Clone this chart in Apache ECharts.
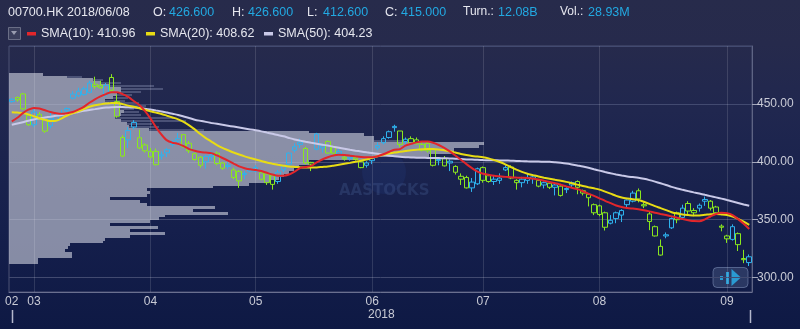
<!DOCTYPE html>
<html><head><meta charset="utf-8">
<script src="https://cdn.jsdelivr.net/npm/echarts@6/dist/echarts.min.js"></script>
<style>
html,body{margin:0;padding:0;width:800px;height:329px;overflow:hidden;
background:linear-gradient(to bottom,#272b4b 0px,#262a4c 44px,#20274f 110px,#151f4c 230px,#0e1944 329px);}
#c{width:800px;height:329px;}
</style></head><body><div id="c"></div>
<script>
const dates = ['2018/02/23','2018/02/26','2018/02/27','2018/02/28',
'2018/03/01','2018/03/02','2018/03/05','2018/03/06','2018/03/07','2018/03/08','2018/03/09','2018/03/12','2018/03/13','2018/03/14','2018/03/15','2018/03/16','2018/03/19','2018/03/20','2018/03/21','2018/03/22','2018/03/23','2018/03/26','2018/03/27','2018/03/28','2018/03/29',
'2018/04/03','2018/04/04','2018/04/06','2018/04/09','2018/04/10','2018/04/11','2018/04/12','2018/04/13','2018/04/16','2018/04/17','2018/04/18','2018/04/19','2018/04/20','2018/04/23','2018/04/24','2018/04/25','2018/04/26','2018/04/27','2018/04/30',
'2018/05/02','2018/05/03','2018/05/04','2018/05/07','2018/05/08','2018/05/09','2018/05/10','2018/05/11','2018/05/14','2018/05/15','2018/05/16','2018/05/17','2018/05/18','2018/05/21','2018/05/23','2018/05/24','2018/05/25','2018/05/28','2018/05/29','2018/05/30','2018/05/31',
'2018/06/01','2018/06/04','2018/06/05','2018/06/06','2018/06/07','2018/06/08','2018/06/11','2018/06/12','2018/06/13','2018/06/14','2018/06/15','2018/06/19','2018/06/20','2018/06/21','2018/06/22','2018/06/25','2018/06/26','2018/06/27','2018/06/28','2018/06/29',
'2018/07/03','2018/07/04','2018/07/05','2018/07/06','2018/07/09','2018/07/10','2018/07/11','2018/07/12','2018/07/13','2018/07/16','2018/07/17','2018/07/18','2018/07/19','2018/07/20','2018/07/23','2018/07/24','2018/07/25','2018/07/26','2018/07/27','2018/07/30','2018/07/31',
'2018/08/01','2018/08/02','2018/08/03','2018/08/06','2018/08/07','2018/08/08','2018/08/09','2018/08/10','2018/08/13','2018/08/14','2018/08/15','2018/08/16','2018/08/17','2018/08/20','2018/08/21','2018/08/22','2018/08/23','2018/08/24','2018/08/27','2018/08/28','2018/08/29','2018/08/30','2018/08/31',
'2018/09/03','2018/09/04','2018/09/05','2018/09/06','2018/09/07'];

const opens = [452,455.5,458.6,440,432,441,436.5,431,436,440,
444,455,457,458,460,467,466,458,472.8,452,
405,419,434,420.8,414.6,404.2,409,405,407.8,414.8,
418,423.5,416,407,404,400,404.5,407.5,399,396,
393,391.7,389,392,392,390.5,389.5,388,383,393,
398,410,415,411.5,399.5,424,412,417.6,413,407,
404,403,403.5,400,397,401,412,416.5,421,429.5,
426.6,417.5,420,419,415,416,410.5,401,403,399,
396,387.5,386.5,377.5,381,395,388,383,384,393,
395.5,384,382,384,385.5,384,380,381.5,378,379,
376,380,383,373,372,363,362,356,347,356,
354,363,366,375,363,355,344,319.5,336,343,
356,352,364,358,360,366,366,361,344.5,336,
333,338,316.5,313];
const highs = [455,456.5,459.5,441,446,443,437,443,442,445,
447,461,464,465,470,473.5,470,468,475.7,458,
423,430,436,427.8,416,412,411.5,409,412,419,
425,424,418,408,405,406,409,409,400,400,
395,393,392,395,397,391,390,389,393,397,
408,416,420,413,400,425,416,418.5,414,411,
406,406,404,401,400.5,404,417,422,427,432,
426.6,421,422,421,417,418,411,404,405,402,
397,390,388,386,395,396,389,388,390,397,
397,385,387,390,389,385,383,382,381,381,
378,383,384,376,373,364,363,357,354,357,
359,367.5,375,377,365,357,345,333,339,352,
357,363,366,360,364,370,367,362,346,337,
346,339,324,320];
const lows = [451,452,445,431,430,436,425,429,434,439,
443,454,456,457,459,463,463,456,460,438,
404,412,428,411,408,403,397,402,404,413,
416,412,407.5,401,395,394,401,397,393,394,
385,377.5,385,391,391,384,380,376,381,391,
397,408,412,398,392,410,408,407,406,406,
401,401,401,394.5,395,398,410,415,420,426,
412.6,415,415,415,409,408,396,397,396,392,
389,380,377,374,380,382,382,380,381,392,
385,376,378,381,381,378,377,376.5,371,370,
373,378,372,371,361.5,354,353,340.7,346,347,
348,360,365,365,360,341,335.5,319,334,342,
347,351,355,353,357,362,358,355,340,330,
332,323,312.5,310];
const closes = [454,453.5,445.7,432,443,437,426.5,437,439,442,
446,458.5,461,463,468,465,464,466,461.8,439.3,
421,427,430,412,409.5,409,397.5,406,410.5,417.7,
420,413,409.5,402,397,404.7,406,398.5,394.5,397,
386.5,383.5,390,393.5,395,385,382,380.5,391,396,
407.5,413,417,399,398,411,414,407.6,407.5,409,
402.5,404,402,395,399,403,414,420,426,430.6,
415,419.5,416,415.5,410,409.5,397,402,396.5,400.5,
391,385,377.5,382.5,394,384,383,385,386,395,
386,382,385,386.5,387,379,382,378,380,371,
377,382,378,375,369,356,354.5,343.5,349.5,351,
358,367,373,368,362,348.5,336,327,337,351,
350,360,357.5,356,362.5,367.5,360,356,343.5,333.5,
344,328.5,315.5,318];

const sma10 = [435,438,442,445,446.5,446,444.5,443,442,441.5,
442,443,445,447.5,451,454,456.5,458.5,460,460,
458.5,456,452.5,449,444,437.5,430,423.5,418.5,416.5,
415.5,413.5,411,409.5,408.5,408,407.5,405.5,403.3,401,
398.5,396,394.5,393.5,393,392,390.5,389,388,388,
389,391.5,394.6,395.5,396.5,399.5,402,404,405.5,406,
405.8,405.3,404.7,404.2,404,404,404.8,406.5,408.5,410.5,
411,414,415.5,416.8,417.5,417.5,416.5,414.5,412,409,
405.5,401.8,398,394.5,391.5,389.7,388.8,388,387.5,387,
386.7,386.4,386.2,386,385.4,384.7,383.6,382.6,381.5,380.2,
378.8,377.6,376.4,374.5,372.5,370.6,368.5,366.3,364.3,362.3,
361,360.2,359.6,359,358.2,357.2,356,355,354,352.9,
351.7,350.6,349.6,348.8,348.7,350.3,352.8,355,356,355.7,
354,350.5,346.5,342];
const sma20 = [442.7,442.5,442.2,441,439.3,437.6,436.2,435.2,435.5,437.5,
440,442,443.7,445.5,447.5,448.8,449.6,450.3,450.8,450.8,
449.8,448.5,447.5,446.3,445,443.7,442.5,441.3,439.8,438.3,
436.7,434.5,431.5,428,424,420.5,417.5,414.5,412,410,
408,406.3,404.7,403.3,402,400.7,399.4,398.4,397.5,396.7,
396,395.6,395.3,395.1,395,395.2,395.6,396,396.7,397.5,
398.3,399.1,400,401,402,403.5,404.8,406,407.1,408,
408.6,409.3,410,410.5,410.8,411,411,410.7,410,409.2,
408,406.8,405.8,405,404.5,404,403,401.5,399.8,397.8,
395.5,393.2,391.3,389.7,388.5,387.3,386.3,385.4,384.5,383.7,
382.7,381.5,380.3,379.2,378.1,377.1,376,374.3,372.5,370.6,
369.2,368.3,367.6,367,365.5,363.7,361.7,360,358.3,356.5,
355.3,354.5,354,353.6,353.7,354.2,354.8,355,354.6,354,
352.8,350.8,348.3,345.5];
const sma50 = [432,433,434.2,435.5,436.6,437.5,438.3,439,439.7,440.4,
441.2,442,443,444,444.8,445.5,446.2,446.8,447.2,447.4,
447.3,447.1,446.8,446.4,445.8,445.1,444.3,443.5,442.5,441.5,
440.5,439.2,437.8,436.4,435.4,434.5,433.6,432.8,432,431.2,
430.4,429.6,428.8,428,427.2,426.3,425.2,424.2,423.1,422,
420.6,419.3,418.3,417.3,416.4,415.6,414.8,414,413.1,412.2,
411.3,410.4,409.6,408.9,408.2,407.6,406.9,406.2,405.5,404.8,
404.3,404,403.8,403.6,403.5,403.4,403.3,403.2,403.1,402.9,
402.7,402.4,402.1,401.9,401.7,401.5,401.4,401.3,401.2,401.1,
401,400.8,400.6,400.4,400.3,400.2,400.1,400,399.6,399.1,
398.5,397.7,396.8,395.9,394.8,393.6,392.4,391.2,390.1,389.1,
388.2,387.4,386.8,386.2,385.3,384.2,382.9,381.5,380,378.4,
377,375.8,374.7,373.6,372.6,371.5,370.4,369.3,368.2,367,
365.8,364.5,363.2,362];

const monthTickDates = ['2018/02/23','2018/03/01','2018/04/03','2018/05/02','2018/06/01','2018/07/03','2018/08/01','2018/09/03'];
const monthTickLabels = ['02','03','04','05','06','07','08','09'];
const yearLabel = '2018';

// volume-by-price profile: bin lower price, main volume, extra (darker) volume
const profileLow = [312,314.5,317,319.5,322,324.5,327,329.5,332,334.5,
337,339.5,342,344.5,347,349.5,352,354.5,357,359.5,
362,364.5,367,369.5,372,374.5,377,379.5,382,384.5,
387,389.5,392,394.5,397,399.5,402,404.5,407,409.5,
412,414.5,417,419.5,422,424.5,427,429.5,432,434.5,
437,439.5,442,444.5,447,449.5,452,454.5,457,459.5,
462,464.5,467,469.5,472,474.5];
const profileVol = [29,29,63,63,56,59,61,94,96,121,
156,121,149,101,141,150,156,219,184,206,
138,131,101,138,141,138,204,240,260,270,
275,280,285,290,300,300,361,420,445,445,
470,475,365,365,355,300,140,120,118,112,
106,112,115,110,112,100,96,104,108,112,
112,100,92,84,58,34];
const profileExtra = [0,0,0,0,0,0,0,0,0,0,
0,0,0,0,0,0,0,0,0,0,
0,0,0,0,0,0,0,0,0,0,
0,0,0,0,0,0,0,0,0,0,
0,0,30,0,0,0,55,30,25,65,
60,20,15,15,25,30,20,15,15,20,
42,45,20,10,15,0];
const profileBin = 2.5;

const sym = '00700.HK';
const header = {date:'2018/06/08', o:'426.600', h:'426.600', l:'412.600', c:'415.000', turn:'12.08B', vol:'28.93M'};
const smaNames = ['SMA(10)','SMA(20)','SMA(50)'];
const smaLast = ['410.96','408.62','404.23'];

const BLUE = '#2fb3ee', GREEN = '#8ae81e';
const smaColors = ['#e2262b','#e8dc14','#c9c9e8'];
const GRIDC = '#424a70';
const FONT = '"Liberation Sans", Arial, sans-serif';

const candleData = dates.map((d,i)=>{
  const o=opens[i], c=closes[i];
  const ref = i>0 ? closes[i-1] : o;
  const col = c >= ref ? BLUE : GREEN;
  return {value:[o,c,lows[i],highs[i]], itemStyle:{color:'rgba(0,0,0,0)', color0:col, borderColor:col, borderColor0:col, borderWidth:1}};
});
const profMain = profileLow.map((lo,i)=>[lo, lo+profileBin, 0, profileVol[i]]);
const profExtra = profileLow.map((lo,i)=>[lo, lo+profileBin, profileVol[i], profileVol[i]+profileExtra[i]]);
const monthSet = new Set(monthTickDates);

function profRender(fill, thin){
  return function(params, api){
    const lo=api.value(0), hi=api.value(1), a=api.value(2), b=api.value(3);
    if (b<=a) return null;
    const p0 = api.coord([a, hi]), p1 = api.coord([b, lo]);
    let y0 = Math.round(p0[1]), y1 = Math.round(p1[1]);
    if (thin) { const m = Math.round((y0+y1)/2); y0 = m-1; y1 = m+1; }
    return {type:'rect', shape:{x:Math.round(p0[0]), y:y0, width:Math.round(p1[0])-Math.round(p0[0]), height:y1-y0}, style:{fill:fill}};
  };
}

const chart = echarts.init(document.getElementById('c'), null, {renderer:'canvas'});

const graphics = [];
function txt(x,y,t,fill,size,weight){ graphics.push({type:'text', left:x, top:y, silent:true, style:{text:t, fill:fill, font:(weight||'normal')+' '+(size||12.5)+'px '+FONT}}); }
const W='#e6e7ef', CY='#22a9e2';
txt(8,6,sym+' '+header.date,W);
txt(153,6,'O:',W); txt(169,6,header.o,CY);
txt(232,6,'H:',W); txt(248,6,header.h,CY);
txt(307,6,'L:',W); txt(323,6,header.l,CY);
txt(385,6,'C:',W); txt(401,6,header.c,CY);
txt(463,6,'Turn.:',W,12); txt(498,6,header.turn,CY);
txt(560,6,'Vol.:',W,12); txt(588,6,header.vol,CY);
graphics.push({type:'rect', left:8, top:27, silent:true, shape:{width:12,height:12}, style:{fill:'#3b3f5c', stroke:'#6a6e86', lineWidth:1}});
graphics.push({type:'polygon', silent:true, shape:{points:[[11,31],[17,31],[14,35]]}, style:{fill:'#9a9db0'}});
const legX=[27,146,264], legT=[41,160,278];
for(let k=0;k<3;k++){
  graphics.push({type:'rect', left:legX[k], top:32, silent:true, shape:{width:9,height:3.5}, style:{fill:smaColors[k]}});
  txt(legT[k],27,smaNames[k]+': '+smaLast[k],W);
}
txt(368,309,yearLabel,'#c9cbd6',12);
graphics.push({type:'line', silent:true, shape:{x1:12.5,y1:310,x2:12.5,y2:323}, style:{stroke:'#b4b8cc', lineWidth:1.5}});
graphics.push({type:'line', silent:true, shape:{x1:750.5,y1:310,x2:750.5,y2:323}, style:{stroke:'#b4b8cc', lineWidth:1.5}});
// watermark
graphics.push({type:'circle', silent:true, z:0, shape:{cx:384,cy:172,r:22}, style:{fill:'rgba(40,80,160,0.14)'}});
graphics.push({type:'text', silent:true, z:0, left:339, top:184, style:{text:'AASTOCKS', fill:'rgba(70,95,150,0.32)', font:'bold 15px "DejaVu Sans", sans-serif'}});
// scroll button
graphics.push({type:'rect', silent:true, left:712.5, top:267, shape:{width:35,height:20,r:4}, style:{fill:'rgba(120,140,180,0.25)', stroke:'rgba(150,170,210,0.45)', lineWidth:1}});
graphics.push({type:'rect', silent:true, left:720, top:276, shape:{width:3,height:4}, style:{fill:'#2a9ad2'}});
graphics.push({type:'rect', silent:true, left:726, top:272, shape:{width:3,height:12}, style:{fill:'#2a9ad2'}});
graphics.push({type:'polygon', silent:true, shape:{points:[[731.5,269],[741,277.5],[731.5,286]]}, style:{fill:'#2a9ad2'}});

const option = {
  animation:false,
  backgroundColor:'transparent',
  textStyle:{fontFamily:FONT},
  grid:{left:9, right:48, top:46, bottom:37, containLabel:false, show:true, borderColor:'#4c5374', borderWidth:1, backgroundColor:'transparent'},
  xAxis:[{
    type:'category', data:dates, boundaryGap:true,
    axisLine:{onZero:false, lineStyle:{color:'#6a7090'}}, axisTick:{show:false},
    axisLabel:{color:'#c9cbd6', fontSize:12, margin:4,
      interval:(idx,val)=>monthSet.has(val),
      formatter:(val)=>monthTickLabels[monthTickDates.indexOf(val)]},
    splitLine:{show:false}
  },{
    type:'value', min:0, max:743, show:false, splitLine:{show:false}
  }],
  yAxis:[{
    type:'value', position:'right', min:287.6, max:500,
    axisLine:{show:true, onZero:false, lineStyle:{color:'#5e6484'}},
    axisTick:{show:true, length:6, lineStyle:{color:'#a4a8bc'}},
    axisLabel:{color:'#c9cbd6', fontSize:12, margin:5, showMinLabel:false, showMaxLabel:false, formatter:(v)=>v.toFixed(2)},
    splitLine:{show:true, lineStyle:{color:GRIDC, width:1}}
  }],
  graphic:graphics,
  series:[
    {type:'custom', name:'profile', xAxisIndex:1, yAxisIndex:0, z:1, silent:true,
     renderItem:profRender('rgba(200,203,218,0.64)', false), encode:{x:[2,3], y:[0,1]}, data:profMain},
    {type:'custom', name:'profile2', xAxisIndex:1, yAxisIndex:0, z:1, silent:true,
     renderItem:profRender('rgba(90,96,132,0.75)', true), encode:{x:[2,3], y:[0,1]}, data:profExtra},
    {type:'line', name:'grid', data:closes, z:2, silent:true, showSymbol:false, symbol:'none',
     lineStyle:{opacity:0},
     markLine:{silent:true, symbol:['none','none'], z:2, label:{show:false}, animation:false,
       lineStyle:{color:'rgba(255,255,255,0.13)', type:'solid', width:1},
       data:monthTickDates.slice(1).map(d=>({xAxis:d}))}},
    {type:'candlestick', name:'K', data:candleData, z:3, barWidth:5},
    {type:'line', name:smaNames[2], data:sma50, z:4, smooth:0.3, symbol:'none', lineStyle:{color:smaColors[2], width:2}},
    {type:'line', name:smaNames[1], data:sma20, z:4, smooth:0.3, symbol:'none', lineStyle:{color:smaColors[1], width:2}},
    {type:'line', name:smaNames[0], data:sma10, z:4, smooth:0.3, symbol:'none', lineStyle:{color:smaColors[0], width:2}}
  ]
};
chart.setOption(option);
</script></body></html>
